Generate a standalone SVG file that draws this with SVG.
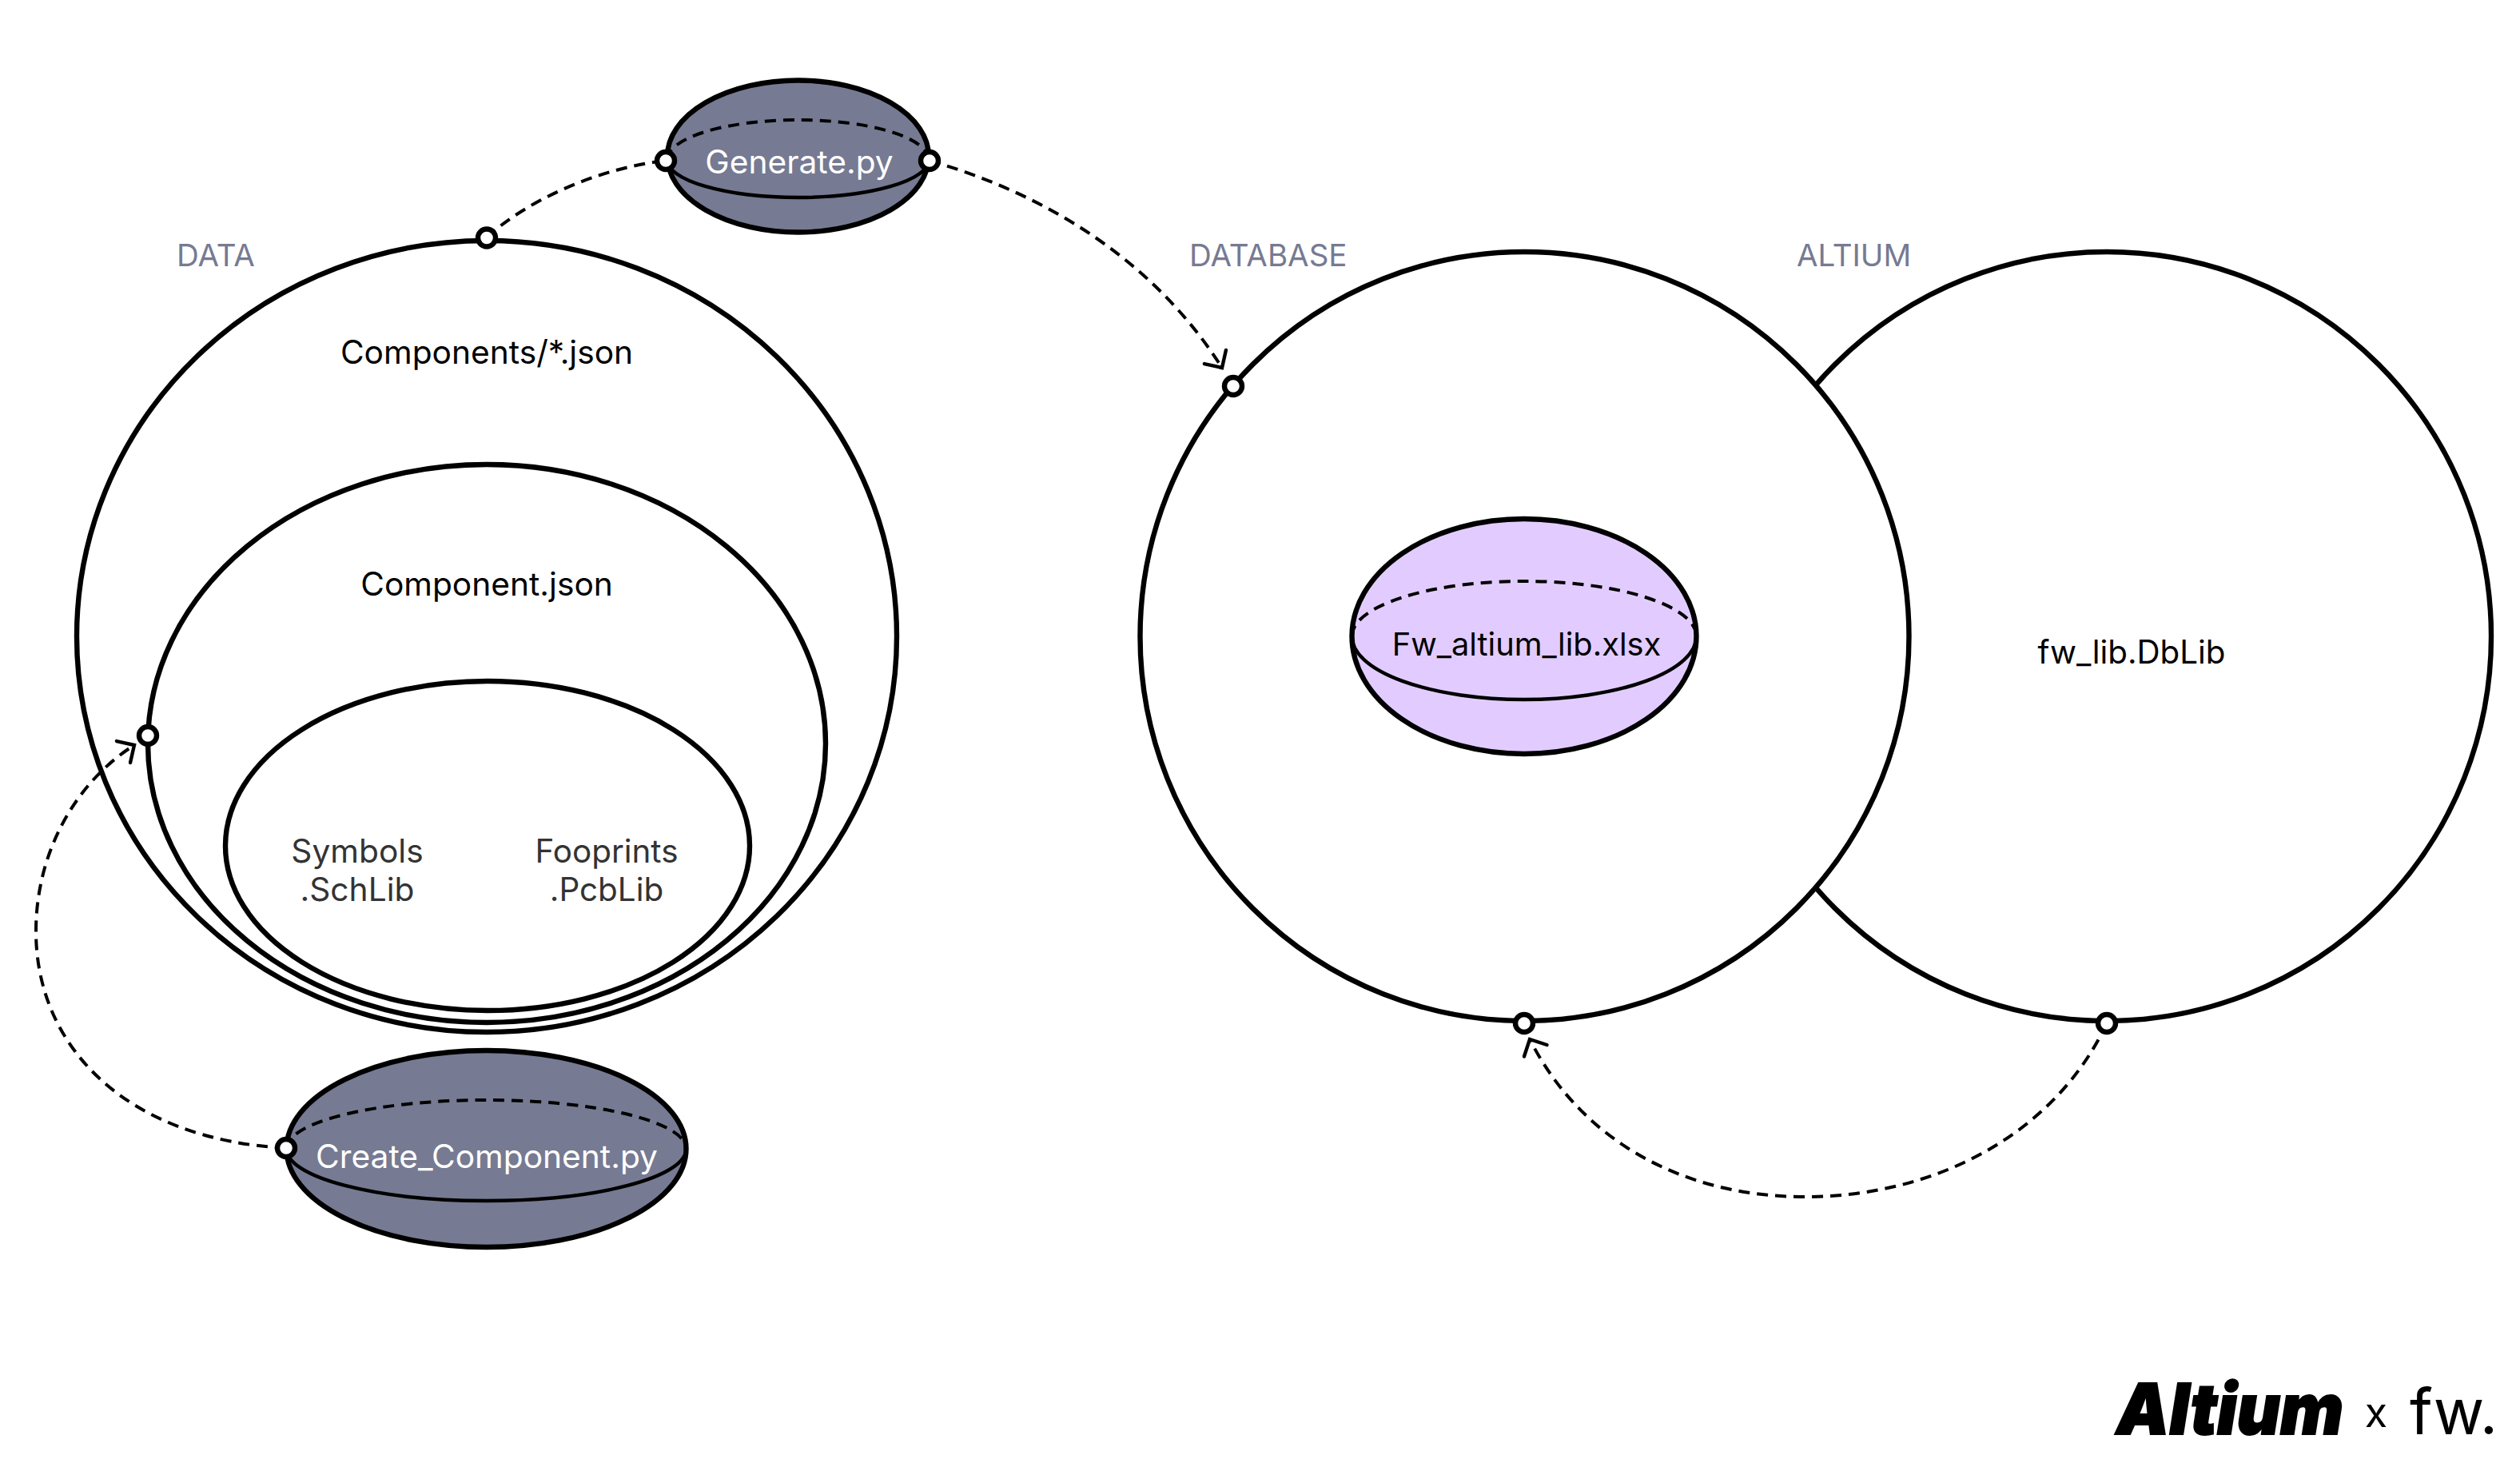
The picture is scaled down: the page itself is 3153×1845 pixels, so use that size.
<svg xmlns="http://www.w3.org/2000/svg" width="3153" height="1845" viewBox="0 0 3153 1845">
<style>
text{font-family:"Inter","Liberation Sans",sans-serif;font-size:40.7px;text-anchor:middle;fill:#000}
.o{fill:#fff;stroke:#000;stroke-width:6.4}
.g{fill:#767a92;stroke:#000;stroke-width:6.4}
.p{fill:#e2ccff;stroke:#000;stroke-width:6.4}
.bd{fill:none;stroke:#000;stroke-width:4;stroke-dasharray:14 9}
.bs{fill:none;stroke:#000;stroke-width:4.4}
.c{fill:none;stroke:#000;stroke-width:4;stroke-dasharray:14 9}
.port{fill:#fff;stroke:#000;stroke-width:6.4}
.lab{fill:#767a92;text-anchor:start;font-size:38.5px}
.w{fill:#fff}
.d{fill:#333}
</style>
<defs>
<marker id="arrow" markerUnits="userSpaceOnUse" markerWidth="40" markerHeight="40" viewBox="-24 -20 28 40" refX="0" refY="0" orient="auto" overflow="visible">
<path d="M-16 -16L0 0L-16 16" fill="none" stroke="#000" stroke-width="4.4" stroke-linecap="round"/>
</marker>
</defs>
<g id="data-outer"><ellipse class="o" cx="609" cy="796" rx="513" ry="495"/><text x="609" y="455">Components/*.json</text></g>
<g id="data-component"><ellipse class="o" cx="609" cy="930" rx="424" ry="349"/><text x="609" y="745">Component.json</text></g>
<g id="data-libs"><ellipse class="o" cx="610" cy="1058" rx="328" ry="206"/>
<text class="d" x="447" y="1079">Symbols</text><text class="d" x="447" y="1127">.SchLib</text>
<text class="d" x="759" y="1079" style="font-size:40.4px">Fooprints</text><text class="d" x="759" y="1127" style="font-size:40.4px">.PcbLib</text></g>
<g id="altium"><circle class="o" cx="2636" cy="796" r="481"/><text x="2667" y="830" style="font-size:40.3px">fw_lib.DbLib</text></g>
<g id="database"><circle class="o" cx="1907.500" cy="796" r="481"/></g>
<g id="xlsx"><ellipse class="p" cx="1907" cy="796" rx="215.500" ry="147"/>
<path class="bd" d="M1691.500 796A215.500 69 0 0 1 2122.500 796"/><path class="bs" d="M1691.500 796A215.500 79 0 0 0 2122.500 796"/>
<text x="1910" y="820" style="font-size:39.8px">Fw_altium_lib.xlsx</text></g>
<g id="generate"><ellipse class="g" cx="998.500" cy="195.500" rx="163.500" ry="95"/>
<path class="bd" d="M835 200A163.500 50 0 0 1 1162 200"/><path class="bs" d="M835 200A163.500 47 0 0 0 1162 200"/>
<text class="w" x="1000" y="217">Generate.py</text></g>
<g id="create-component"><ellipse class="g" cx="608.500" cy="1437" rx="250" ry="123"/>
<path class="bd" d="M358.500 1437A250 61 0 0 1 858.500 1437"/><path class="bs" d="M358.500 1437A250 65 0 0 0 858.500 1437"/>
<text class="w" x="609" y="1461">Create_Component.py</text></g>
<g id="connectors">
<path class="c" d="M609 297C660 250 750 210 833 201"/>
<path class="c" d="M1163 201C1300 240 1440 320 1529 460" marker-end="url(#arrow)"/>
<path class="c" d="M358 1436C160 1426 45 1311 45 1165C45 1060 100 975 168 932" marker-end="url(#arrow)"/>
<path class="c" d="M2636 1280C2570 1420 2420 1497 2258 1497C2110 1497 1980 1430 1914 1300" marker-end="url(#arrow)"/>
</g>
<g id="ports">
<circle class="port" cx="609" cy="297.500" r="11"/>
<circle class="port" cx="833" cy="201" r="11"/>
<circle class="port" cx="1163" cy="201" r="11"/>
<circle class="port" cx="1543" cy="483" r="11"/>
<circle class="port" cx="185" cy="920" r="11"/>
<circle class="port" cx="358" cy="1436" r="11"/>
<circle class="port" cx="1907" cy="1280" r="11"/>
<circle class="port" cx="2636" cy="1280" r="11"/>
</g>
<g id="labels">
<text class="lab" x="221" y="333">DATA</text>
<text class="lab" x="1488" y="333">DATABASE</text>
<text class="lab" x="2248" y="333">ALTIUM</text>
</g>
<g id="logo">
<text x="2790" y="1794" style="font-size:88px;font-weight:900;font-style:italic;stroke:#000;stroke-width:2" textLength="284" lengthAdjust="spacingAndGlyphs">Altium</text>
<text x="2973" y="1785" style="font-size:52px">x</text>
<text x="3070" y="1794" style="font-size:78px;font-weight:400" textLength="110" lengthAdjust="spacingAndGlyphs">fw.</text>
</g>
</svg>
